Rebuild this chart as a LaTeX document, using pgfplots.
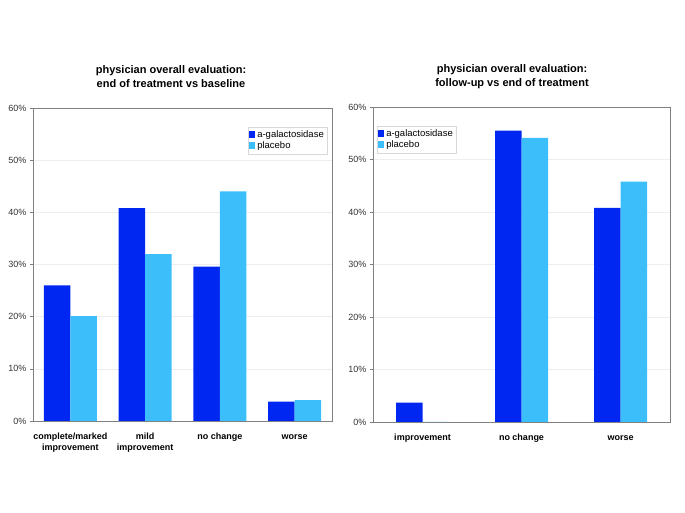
\documentclass[border=0pt]{standalone}
\usepackage{pgfplots}
\pgfplotsset{compat=1.18}
\usepackage{fontspec}
\setmainfont{Liberation Sans}
\definecolor{dblue}{RGB}{0,38,242}
\definecolor{lblue}{RGB}{60,190,250}
\definecolor{axgray}{RGB}{128,128,128}
\definecolor{gridgray}{RGB}{238,238,238}
\pgfplotsset{
  mybar/.style={
    scale only axis,
    ybar=0pt,
    bar width=26.5pt,
    ymin=0, ymax=60,
    ytick={0,10,...,60},
    yticklabel={\pgfmathprintnumber{\tick}\%},
    /pgf/number format/assume math mode=true,
    ymajorgrids,
    major grid style={gridgray, line width=0.6pt},
    axis line style={axgray, line width=0.8pt},
    tick style={axgray, line width=0.6pt},
    ytick pos=left,
    xtick pos=bottom,
    ytick align=outside,
    major tick length=3pt,
    xtick=data,
    xtick style={draw=none},
    extra x tick style={tick align=outside, major tick length=4pt, tick style={draw=axgray}},
    extra x tick labels={},
    yticklabel style={font=\fontsize{9}{10}\selectfont, text=black!80},
    xticklabel style={font=\bfseries\fontsize{9}{11}\selectfont, align=center, yshift=-4pt},
    typeset ticklabels with strut,
    legend style={font=\fontsize{9.5}{11}\selectfont, draw=gridgray!80!gray, inner sep=1.5pt, row sep=-1pt,
      /tikz/every even column/.append style={column sep=2pt}},
    legend cell align=left,
    legend image code/.code={\fill[##1] (0pt,-3pt) rectangle (6pt,4pt);},
  },
}
\begin{document}
\begin{tikzpicture}
\path (0pt,0pt) rectangle (685pt,513pt);
\node[align=center, font=\bfseries\fontsize{11}{14}\selectfont] at (171pt,436pt) {physician overall evaluation:\\end of treatment vs baseline};
\node[align=center, font=\bfseries\fontsize{11}{14}\selectfont] at (512pt,436pt) {physician overall evaluation:\\follow-up vs end of treatment};
\begin{axis}[mybar,
  at={(33pt,92pt)}, anchor=south west,
  width=299pt, height=313pt,
  xmin=-0.5, xmax=3.5,
  xticklabels={complete/marked\\improvement, mild\\improvement, no change, worse},
  extra x ticks={0.5,1.5,2.5},
  legend style={at={(0.985,0.94)}, anchor=north east},
]
\addplot[fill=dblue, draw=none] coordinates {(0,26.0) (1,40.8) (2,29.6) (3,3.7)};
\addplot[fill=lblue, draw=none] coordinates {(0,20.1) (1,32.0) (2,44.0) (3,4.0)};
\legend{a-galactosidase, placebo}
\end{axis}
\begin{axis}[mybar,
  at={(373pt,91pt)}, anchor=south west,
  width=297pt, height=315pt,
  xmin=-0.5, xmax=2.5,
  xticklabels={improvement, no change, worse},
  extra x ticks={0.5,1.5},
  legend style={at={(0.012,0.94)}, anchor=north west},
]
\addplot[fill=dblue, draw=none] coordinates {(0,3.7) (1,55.5) (2,40.8)};
\addplot[fill=lblue, draw=none] coordinates {(0,0) (1,54.1) (2,45.8)};
\legend{a-galactosidase, placebo}
\end{axis}
\end{tikzpicture}
\end{document}
